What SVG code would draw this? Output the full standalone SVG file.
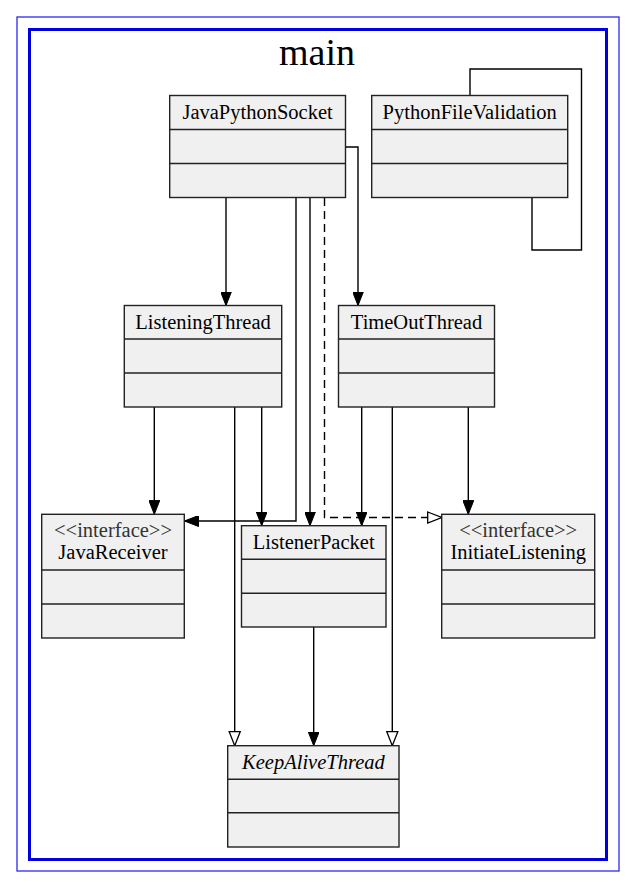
<svg xmlns="http://www.w3.org/2000/svg" width="636" height="889" viewBox="0 0 636 889">
<style>
.box{fill:#f0f0f0;stroke:#222;stroke-width:1.4}
.sep{stroke:#222;stroke-width:1.4}
.t{font-family:'Liberation Serif','Times New Roman',serif;font-size:20.5px;fill:#000;text-anchor:middle}
.st{fill:#333}
.it{font-style:italic}
.e{fill:none;stroke:#000;stroke-width:1.4}
.d{stroke-dasharray:8,5}
</style>
<defs>
<marker id="fa" viewBox="0 0 14 11" refX="14" refY="5.5" markerWidth="14" markerHeight="11" markerUnits="userSpaceOnUse" orient="auto">
<path d="M0,0 L14,5.5 L0,11 Z" fill="#000" stroke="#000" stroke-width="1"/>
</marker>
<marker id="ha" viewBox="-1 -1 16 13" refX="14" refY="5.5" markerWidth="16" markerHeight="13" markerUnits="userSpaceOnUse" orient="auto">
<path d="M0,0 L14,5.5 L0,11 Z" fill="#fff" stroke="#000" stroke-width="1.3"/>
</marker>
</defs>
<rect x="0" y="0" width="636" height="889" fill="#fff"/>
<g id="cluster-main">
<rect x="17" y="17" width="602" height="854" fill="none" stroke="#2a2aee" stroke-width="1.3"/>
<rect x="29.5" y="29.5" width="577" height="830" fill="none" stroke="#0000dd" stroke-width="3"/>
<text x="317" y="65" class="t" style="font-size:38px">main</text>
</g>
<g id="connectors">
<path class="e" d="M226,198 V305.5" marker-end="url(#fa)"/>
<path class="e" d="M345.5,147 H358 V305.5" marker-end="url(#fa)"/>
<path class="e" d="M296,198 V521 H184.5" marker-end="url(#fa)"/>
<path class="e" d="M310,198 V525.7" marker-end="url(#fa)"/>
<path class="e d" d="M324.5,198 V517.5 H441.7" marker-end="url(#ha)"/>
<path class="e" d="M470,95 V69 H581.5 V250 H532 V197.5"/>
<path class="e" d="M154.3,407 V514.3" marker-end="url(#fa)"/>
<path class="e" d="M234.7,407 V745.7" marker-end="url(#ha)"/>
<path class="e" d="M261.7,407 V525.7" marker-end="url(#fa)"/>
<path class="e" d="M361.7,407 V525.7" marker-end="url(#fa)"/>
<path class="e" d="M392.3,407 V745.7" marker-end="url(#ha)"/>
<path class="e" d="M468.3,407 V514.3" marker-end="url(#fa)"/>
<path class="e" d="M313.7,627 V745.7" marker-end="url(#fa)"/>
</g>
<g id="JavaPythonSocket">
<rect class="box" x="169.7" y="95.5" width="175.8" height="102"/>
<line class="sep" x1="169.7" y1="129.5" x2="345.5" y2="129.5"/>
<line class="sep" x1="169.7" y1="163.5" x2="345.5" y2="163.5"/>
<text class="t" x="257.6" y="119">JavaPythonSocket</text>
</g>
<g id="PythonFileValidation">
<rect class="box" x="371.7" y="95.5" width="196" height="102"/>
<line class="sep" x1="371.7" y1="129.5" x2="567.7" y2="129.5"/>
<line class="sep" x1="371.7" y1="163.5" x2="567.7" y2="163.5"/>
<text class="t" x="469.7" y="119">PythonFileValidation</text>
</g>
<g id="ListeningThread">
<rect class="box" x="124.3" y="305.5" width="157.4" height="101.5"/>
<line class="sep" x1="124.3" y1="339" x2="281.7" y2="339"/>
<line class="sep" x1="124.3" y1="373" x2="281.7" y2="373"/>
<text class="t" x="203" y="328.5">ListeningThread</text>
</g>
<g id="TimeOutThread">
<rect class="box" x="338.5" y="305.5" width="156" height="101.5"/>
<line class="sep" x1="338.5" y1="339" x2="494.5" y2="339"/>
<line class="sep" x1="338.5" y1="373" x2="494.5" y2="373"/>
<text class="t" x="416.5" y="328.5">TimeOutThread</text>
</g>
<g id="JavaReceiver">
<rect class="box" x="41.7" y="514.3" width="142.6" height="123.7"/>
<line class="sep" x1="41.7" y1="570" x2="184.3" y2="570"/>
<line class="sep" x1="41.7" y1="604" x2="184.3" y2="604"/>
<text class="t st" x="113" y="537">&lt;&lt;interface&gt;&gt;</text>
<text class="t" x="113" y="559">JavaReceiver</text>
</g>
<g id="ListenerPacket">
<rect class="box" x="241.5" y="525.7" width="144.5" height="101.3"/>
<line class="sep" x1="241.5" y1="559.3" x2="386" y2="559.3"/>
<line class="sep" x1="241.5" y1="593.3" x2="386" y2="593.3"/>
<text class="t" x="313.7" y="548.5">ListenerPacket</text>
</g>
<g id="InitiateListening">
<rect class="box" x="441.7" y="514.3" width="153" height="123.7"/>
<line class="sep" x1="441.7" y1="570" x2="594.7" y2="570"/>
<line class="sep" x1="441.7" y1="604" x2="594.7" y2="604"/>
<text class="t st" x="518.2" y="537">&lt;&lt;interface&gt;&gt;</text>
<text class="t" x="518.2" y="559">InitiateListening</text>
</g>
<g id="KeepAliveThread">
<rect class="box" x="227.7" y="745.7" width="171.3" height="101.3"/>
<line class="sep" x1="227.7" y1="779.3" x2="399" y2="779.3"/>
<line class="sep" x1="227.7" y1="812.7" x2="399" y2="812.7"/>
<text class="t it" x="313.4" y="768.5">KeepAliveThread</text>
</g>
</svg>
